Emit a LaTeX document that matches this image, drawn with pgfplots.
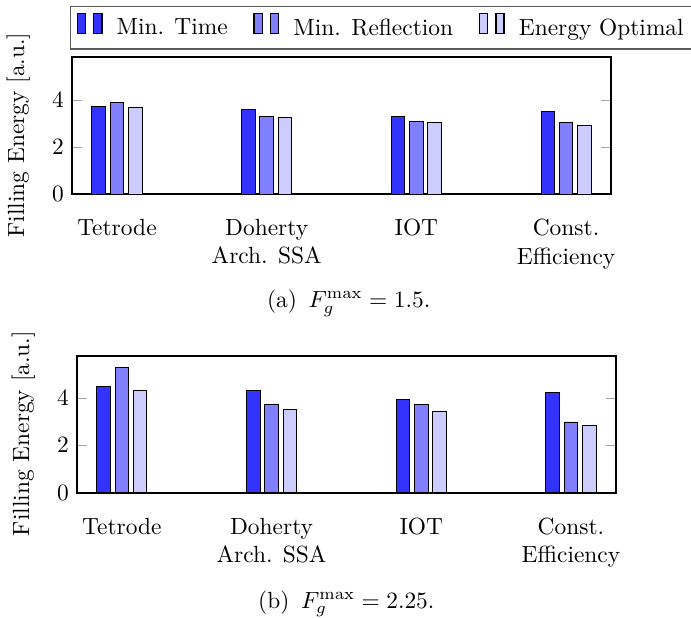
\documentclass[border=0pt]{standalone}
\usepackage{pgfplots}
\pgfplotsset{compat=1.18}

\pgfplotstableread{
x  mintime  minrefl  energyopt
0  3.73     3.89     3.67
1  3.60     3.30     3.25
2  3.30     3.10     3.05
3  3.53     3.06     2.92
}\dataA

\pgfplotstableread{
x  mintime  minrefl  energyopt
0  4.46     5.28     4.32
1  4.32     3.73     3.52
2  3.94     3.70     3.44
3  4.23     2.98     2.85
}\dataB

\pgfplotsset{
  fillbars/.style={
    ybar=2pt, bar width=5.8pt,
    scale only axis, width=230.3pt, height=58.6pt,
    xmin=-0.3, xmax=3.3, ymin=0,
    xtick=data, ytick={0,2,4},
    xticklabels={Tetrode,{Doherty\\Arch. SSA},IOT,{Const.\\Efficiency}},
    xticklabel style={align=center, yshift=-3pt},
    xtick style={draw=none},
    ytick style={gray!70},
    axis line style={thick},
    ylabel={Filling Energy [a.u.]},
    ylabel style={yshift=2.6pt, xshift=-4pt},
  },
  twobars/.style={
    legend image code/.code={
      \draw[##1] (0pt,-2pt) rectangle (3.5pt,6.5pt);
      \draw[##1] (7pt,-2pt) rectangle (10.5pt,6.5pt);
    },
  },
}

\begin{document}
\begin{tikzpicture}
\begin{axis}[fillbars, at={(30.8pt,-24.4pt)}, anchor=north west, ymax=5.83,
  legend columns=-1,
  legend style={at={(-0.0038,1.372)}, anchor=north west,
    draw=black!65, semithick, inner sep=2.5pt,
    /tikz/every odd column/.append style={column sep=4pt},
    /tikz/every even column/.append style={column sep=9pt}},
]
\addplot[draw=black, fill=blue!80, twobars] table[x=x, y=mintime] {\dataA};
\addplot[draw=black, fill=blue!50, twobars] table[x=x, y=minrefl] {\dataA};
\addplot[draw=black, fill=blue!20, twobars] table[x=x, y=energyopt] {\dataA};
\legend{Min. Time, Min. Reflection, Energy Optimal}
\end{axis}
\node at (149pt,-129.5pt) {(a)\enspace$F_g^{\max} = 1.5$.};

\begin{axis}[fillbars, at={(32.9pt,-152pt)}, anchor=north west, ymax=5.77]
\addplot[draw=black, fill=blue!80] table[x=x, y=mintime] {\dataB};
\addplot[draw=black, fill=blue!50] table[x=x, y=minrefl] {\dataB};
\addplot[draw=black, fill=blue!20] table[x=x, y=energyopt] {\dataB};
\end{axis}
\node at (148pt,-258pt) {(b)\enspace$F_g^{\max} = 2.25$.};

\pgfresetboundingbox
\useasboundingbox (0,0) rectangle (295.3pt,-264.1pt);
\end{tikzpicture}
\end{document}
